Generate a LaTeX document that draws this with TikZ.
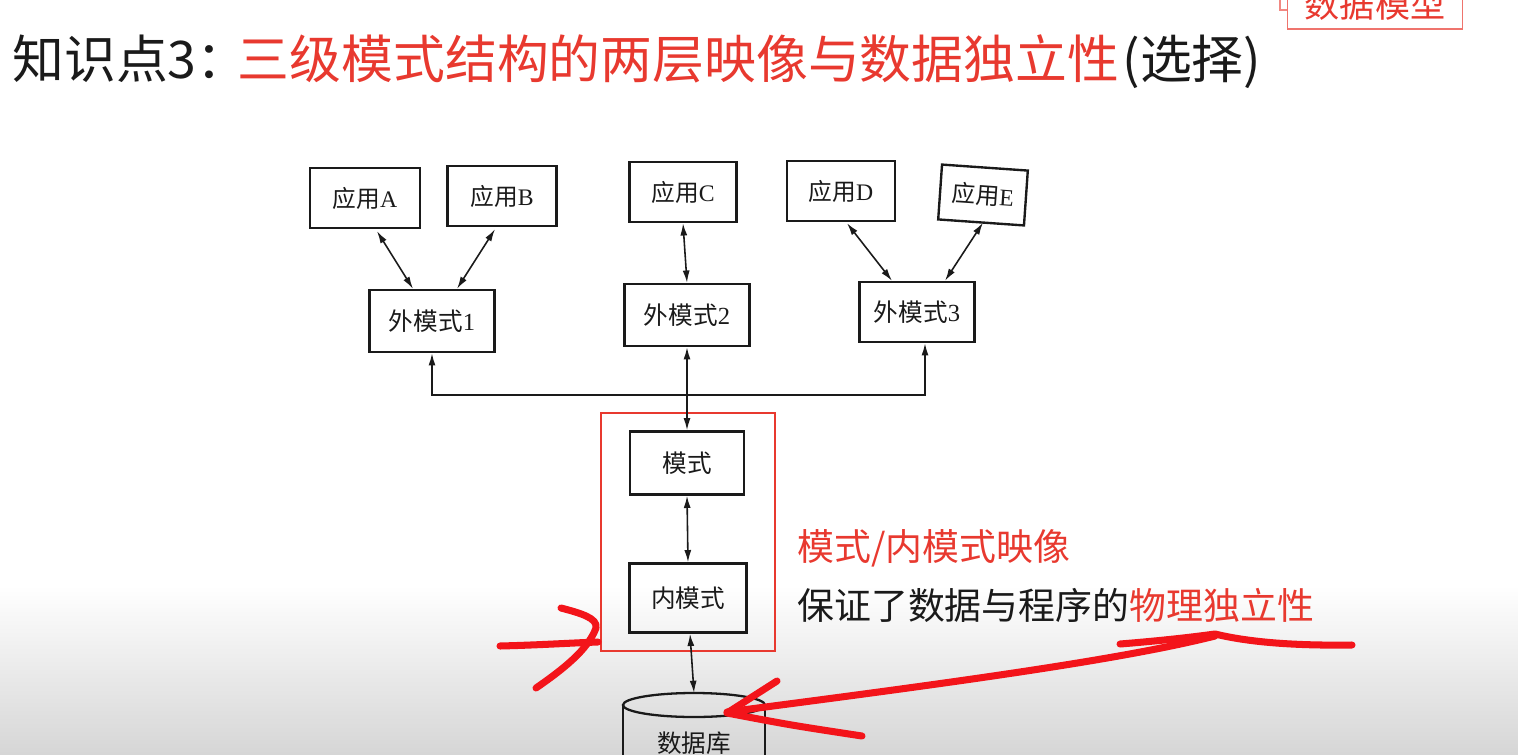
\documentclass[tikz,border=0pt]{standalone}
\usepackage{fontspec}
\setmainfont{Liberation Serif}
\newfontfamily\cjk{Noto Sans CJK SC}
\usetikzlibrary{arrows.meta,positioning,calc,fit,shapes.geometric}
\definecolor{cRed}{HTML}{E8392F}
\definecolor{cPen}{HTML}{F3141A}
\definecolor{cInk}{HTML}{1A1A1A}
\definecolor{cShade}{HTML}{D6D6D6}
\tikzset{
  sbox/.style={draw=cInk,line width=1.35pt,minimum width=#1,minimum height=1.2cm,font=\fontsize{13.5}{15}\selectfont,inner sep=2pt,text=cInk},
  sbox/.default=2.2cm,
  darr/.style={{Latex[length=7pt,width=4pt]}-{Latex[length=7pt,width=4pt]},line width=0.9pt,color=cInk},
  pen/.style={cPen,line width=4pt,line cap=round,line join=round},
  note/.style={font=\cjk\fontsize{21}{24}\selectfont,anchor=west,inner sep=0pt,text=cInk},
}

\begin{document}
\begin{tikzpicture}[x=0.02cm,y=-0.02cm]
  \useasboundingbox (0,0) rectangle (1518,754);
  \begin{scope}
    \clip (0,0) rectangle (1518,754);
    \shade[top color=white,bottom color=cShade] (0,585) rectangle (1518,754);

    % title and badge
    \node[font=\cjk\fontsize{29.5}{32}\selectfont,anchor=west,inner sep=0pt,text=cInk] (title) at (12,62)
      {知识点3：\hspace{-6pt}\textcolor{cRed}{三级模式结构的两层映像与数据独立性}\hspace{2pt}(选择)};
    \node[draw=cRed!70,line width=0.9pt,text=cRed,font=\cjk\fontsize{20}{22}\selectfont,minimum width=3.5cm,minimum height=1cm,inner sep=0pt] (badge) at (1375,4) {数据模型};
    \draw[cRed!60,line width=0.8pt] (1280,0) -- (1280,10) -- (1287,10);

    % applications
    \foreach \n/\x/\y/\w/\t in {appA/365/198/2.2cm/A,appB/502/196/2.18cm/B,appC/683/192/2.14cm/C,appD/841/191/2.16cm/D}
      \node[sbox=\w] (\n) at (\x,\y) {{\cjk 应用}\t};
    \node[sbox=1.72cm,minimum height=1.1cm,rotate=-4] (appE) at (983,195) {{\cjk 应用}E};

    % external schemas
    \node[sbox=2.5cm,minimum height=1.24cm,font=\fontsize{14}{16}\selectfont] (ext1) at (432,321) {{\cjk 外模式}1};
    \node[sbox=2.5cm,minimum height=1.24cm,font=\fontsize{14}{16}\selectfont] (ext2) at (687,315) {{\cjk 外模式}2};
    \node[sbox=2.3cm,minimum height=1.2cm,font=\fontsize{14}{16}\selectfont] (ext3) at (917,312) {{\cjk 外模式}3};

    % schema and internal schema
    \node[sbox=2.28cm,minimum height=1.26cm,font=\cjk\fontsize{14}{16}\selectfont] (schema) at (687,463) {模式};
    \node[sbox=2.34cm,minimum height=1.38cm,font=\cjk\fontsize{14}{16}\selectfont] (inner) at (688,598) {内模式};
    \node[draw=cRed,line width=1pt,fit=(schema)(inner),inner xsep=0.54cm,inner ysep=0.34cm] (mapbox) {};

    % database
    \draw[cInk,line width=1.3pt] (694,705) ellipse [x radius=71,y radius=12];
    \draw[cInk,line width=1.3pt] (623,705) -- (623,790) (765,705) -- (765,790);
    \coordinate (dbtop) at (694,693);
    \node[font=\cjk\fontsize{14}{16}\selectfont,text=cInk,inner sep=0pt] (db) at (694,743) {数据库};

    % connectors
    \draw[darr] ($(appA.south)+(12,2)$) -- ($(ext1.north)+(-19,0)$);
    \draw[darr] ($(appB.south)+(-7,2)$) -- ($(ext1.north)+(25,0)$);
    \draw[darr] (appC.south) -- (ext2.north);
    \draw[darr] ($(appD.south)+(6,1)$) -- ($(ext3.north)+(-25,0)$);
    \draw[darr] ($(appE.south)+(2,-1)$) -- ($(ext3.north)+(28,0)$);
    \coordinate (bus) at (687,395);
    \draw[darr] (ext1.south) |- (bus) -| ($(ext3.south)+(8,0)$);
    \draw[darr] (ext2.south) -- (schema.north);
    \draw[darr] (schema.south) -- (inner.north);
    \draw[darr] ($(inner.south)+(2,0)$) -- (dbtop);

    % notes
    \node[note,text=cRed] (maptext) at (797,548) {模式/内模式映像};
    \node[note] (indep) at (797,605) {保证了数据与程序的\textcolor{cRed}{物理独立性}};

    % hand-drawn marks
    \draw[pen] (500,646) .. controls (540,645) and (570,643) .. (598,642);
    \draw[pen] (561,608) .. controls (580,613) and (598,618) .. (596,628) .. controls (588,650) and (562,670) .. (536,688);
    \draw[pen] (1120,644) .. controls (1170,640) and (1200,636) .. (1215,634) .. controls (1240,640) and (1280,646) .. (1352,645);
    \draw[pen] (1215,636) .. controls (1120,660) and (950,683) .. (727,712);
    \draw[pen] (777,681) -- (727,713) .. controls (790,725) .. (862,736);
  \end{scope}
\end{tikzpicture}
\end{document}
